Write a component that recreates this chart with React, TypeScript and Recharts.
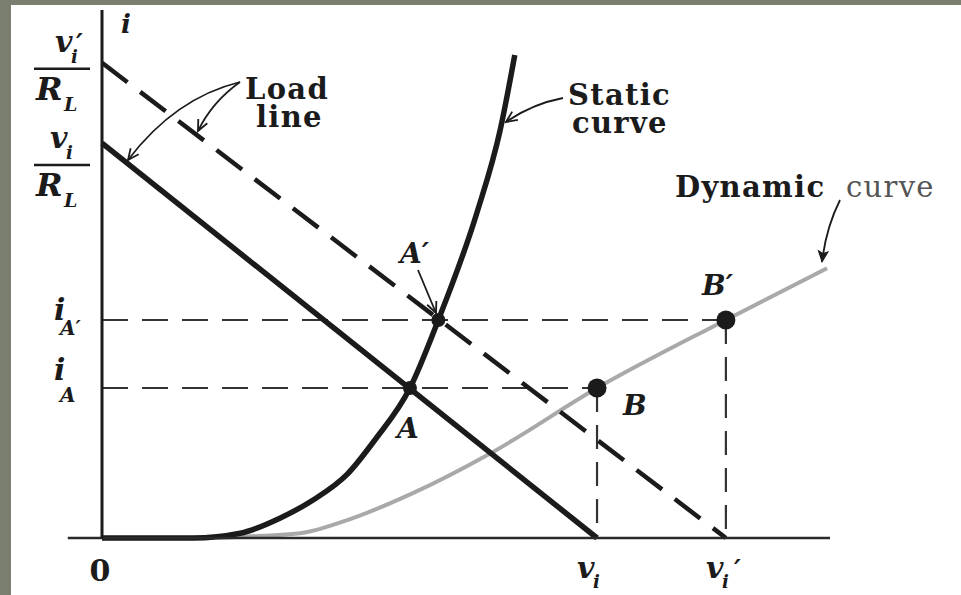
import { ComposedChart, Line, XAxis, YAxis, ReferenceLine, Scatter } from 'recharts';

// operating values: v in volts, i in mA
const vi = 6.8;
const viPrime = 8.57;
const viOverRL = 7.48;
const viPrimeOverRL = 9.0;
const iA = 2.84;
const iAPrime = 4.13;

// static diode curve
const staticV = [0, 1.25, 1.9, 2.45, 2.9, 3.37, 3.75, 4.23, 4.62, 5.15, 5.47, 5.67];
const staticI = [0, 0, 0.09, 0.38, 0.72, 1.21, 1.86, iA, iAPrime, 6.16, 7.73, 9.15];

// dynamic curve (through B and B')
const dynamicV = [1.6, 1.85, 2.72, 3.37, 4.27, 5.37, vi, viPrime, 9.96];
const dynamicI = [0, 0.02, 0.09, 0.34, 0.85, 1.63, iA, iAPrime, 5.11];

// marked operating points
const pointNames = ['A', 'A2', 'B', 'B2'];
const pointV = [4.23, 4.62, vi, viPrime];
const pointI = [iA, iAPrime, iA, iAPrime];

const xTicks = [0, vi, viPrime];
const yTicks = [iA, iAPrime, viOverRL, viPrimeOverRL];

const toRows = (vs: number[], is: number[]) => vs.map((v, k) => ({ v, i: is[k] }));
const staticData = toRows(staticV, staticI);
const dynamicData = toRows(dynamicV, dynamicI);
const loadData = [{ v: 0, i: viOverRL }, { v: vi, i: 0 }];
const loadPrimeData = [{ v: 0, i: viPrimeOverRL }, { v: viPrime, i: 0 }];
const pointData = pointNames.map((name, k) => ({ name, v: pointV[k], i: pointI[k] }));

const INK = '#1b1b1b';
const SERIF = "'DejaVu Serif', serif";
const dotR: Record<string, number> = { A: 7, A2: 7, B: 9.5, B2: 9.5 };

const near = (a: number, b: number) => Math.abs(a - b) < 1e-6;

function XTick({ x, y, payload }: any) {
  const v = payload.value;
  if (near(v, 0)) {
    return (
      <text x={x - 2} y={y + 43} textAnchor="middle" fontFamily={SERIF} fontWeight="bold" fontSize={30} fill={INK}>
        0
      </text>
    );
  }
  return (
    <g fill={INK} fontFamily={SERIF} fontWeight="bold" fontStyle="italic">
      <text x={x - 20} y={y + 40} fontSize={30}>v</text>
      <text x={x - 4} y={y + 50} fontSize={18}>i</text>
      {near(v, viPrime) && <text x={x + 8} y={y + 40} fontSize={26}>′</text>}
    </g>
  );
}

function Fraction({ x, y, prime }: { x: number; y: number; prime: boolean }) {
  // y is the fraction bar
  const nx = prime ? x - 47 : x - 52;
  return (
    <g fill={INK} fontFamily={SERIF} fontWeight="bold" fontStyle="italic">
      <text x={nx} y={y - 17} fontSize={30}>v</text>
      <text x={nx + 16} y={y - 6} fontSize={18}>i</text>
      {prime && <text x={nx + 21} y={y - 17} fontSize={26}>′</text>}
      <line x1={x - 68} x2={x - 12} y1={y} y2={y} stroke={INK} strokeWidth={2.5} />
      <text x={x - 66} y={y + 31} fontSize={32}>R</text>
      <text x={x - 38} y={y + 42} fontSize={19}>L</text>
    </g>
  );
}

function YTick({ x, y, payload }: any) {
  const v = payload.value;
  if (near(v, viPrimeOverRL)) return <Fraction x={x} y={y + 6} prime />;
  if (near(v, viOverRL)) return <Fraction x={x} y={y + 22} prime={false} />;
  const prime = near(v, iAPrime);
  return (
    <g fill={INK} fontFamily={SERIF} fontWeight="bold" fontStyle="italic">
      <text x={x - 48} y={prime ? y : y - 8} fontSize={30}>i</text>
      <text x={x - 42} y={prime ? y + 15 : y + 14} fontSize={20}>{prime ? 'A′' : 'A'}</text>
    </g>
  );
}

function PointDot({ cx, cy, payload }: any) {
  return <circle cx={cx} cy={cy} r={dotR[payload.name]} fill={INK} />;
}

function Annotations() {
  const bold = { fontFamily: SERIF, fontWeight: 'bold' as const, fill: INK, fontSize: 29, letterSpacing: 1.3 };
  const math = { fontFamily: SERIF, fontWeight: 'bold' as const, fill: INK, fontStyle: 'italic' as const, fontSize: 28 };
  return (
    <svg width={961} height={595} style={{ position: 'absolute', left: 0, top: 0, pointerEvents: 'none' }}>
      <defs>
        <marker id="open" markerWidth={14} markerHeight={12} refX={12} refY={6} orient="auto" markerUnits="userSpaceOnUse">
          <path d="M1,1 L12,6 L1,11" fill="none" stroke={INK} strokeWidth={1.8} />
        </marker>
        <marker id="solid" markerWidth={14} markerHeight={12} refX={12} refY={6} orient="auto" markerUnits="userSpaceOnUse">
          <path d="M0,0 L13,6 L0,12 L3,6 Z" fill={INK} />
        </marker>
      </defs>
      <g fill="none" stroke={INK} strokeWidth={1.8}>
        <path d="M240,82 Q175,98 128,160" markerEnd="url(#open)" />
        <path d="M240,82 Q212,102 198,131" markerEnd="url(#open)" />
        <path d="M563,98 Q532,104 506,122" markerEnd="url(#open)" />
        <path d="M840,200 Q826,228 822,262" markerEnd="url(#solid)" />
        <path d="M418,270 L436,313" markerEnd="url(#open)" />
      </g>
      <text x={121} y={33} fontFamily={SERIF} fontWeight="bold" fill={INK} fontStyle="italic" fontSize={26}>i</text>
      <text x={245} y={99} {...bold}>Load</text>
      <text x={256} y={127} {...bold}>line</text>
      <text x={568} y={105} {...bold}>Static</text>
      <text x={572} y={133} {...bold}>curve</text>
      <text x={675} y={197} {...bold}>Dynamic</text>
      <text x={846} y={197} fontFamily={SERIF} fontSize={29} letterSpacing={1.3} fill="#555">curve</text>
      <text x={400} y={263} {...math}>A′</text>
      <text x={397} y={438} {...math}>A</text>
      <text x={623} y={415} {...math}>B</text>
      <text x={702} y={295} {...math}>B′</text>
    </svg>
  );
}

export default function App() {
  return (
    <div style={{ position: 'absolute', left: 0, top: 0, width: 961, height: 595, background: '#7b7f6f' }}>
      <ComposedChart
        width={950}
        height={590}
        margin={{ top: 5, right: 131, bottom: 7, left: 6 }}
        style={{ position: 'absolute', left: 11, top: 5, background: '#fff' }}
      >
        <XAxis
          type="number"
          dataKey="v"
          domain={[0, 10]}
          ticks={xTicks}
          interval={0}
          height={50}
          tickSize={0}
          tickMargin={0}
          axisLine={{ stroke: '#2a2a2a', strokeWidth: 2.5 }}
          tickLine={false}
          tick={<XTick />}
        />
        <YAxis
          type="number"
          domain={[0, 10]}
          ticks={yTicks}
          interval={0}
          width={85}
          tickSize={0}
          tickMargin={0}
          axisLine={{ stroke: INK, strokeWidth: 3 }}
          tickLine={false}
          tick={<YTick />}
        />
        <ReferenceLine segment={[{ x: -0.47, y: 0 }, { x: 0, y: 0 }]} stroke="#2a2a2a" strokeWidth={2.5} ifOverflow="visible" />
        <ReferenceLine segment={[{ x: 0, y: iAPrime }, { x: viPrime, y: iAPrime }]} stroke="#333" strokeWidth={2} strokeDasharray="26 14" />
        <ReferenceLine segment={[{ x: 0, y: iA }, { x: vi, y: iA }]} stroke="#333" strokeWidth={2} strokeDasharray="26 14" />
        <ReferenceLine segment={[{ x: vi, y: iA }, { x: vi, y: 0 }]} stroke="#333" strokeWidth={2.2} strokeDasharray="24 13" />
        <ReferenceLine segment={[{ x: viPrime, y: iAPrime }, { x: viPrime, y: 0 }]} stroke="#333" strokeWidth={2.2} strokeDasharray="24 13" />
        <Line data={dynamicData} dataKey="i" type="monotone" stroke="#a9a9a9" strokeWidth={4} dot={false} activeDot={false} isAnimationActive={false} />
        <Line data={loadPrimeData} dataKey="i" type="linear" stroke={INK} strokeWidth={4.5} strokeDasharray="32 16" dot={false} activeDot={false} isAnimationActive={false} />
        <Line data={loadData} dataKey="i" type="linear" stroke={INK} strokeWidth={5.5} dot={false} activeDot={false} isAnimationActive={false} />
        <Line data={staticData} dataKey="i" type="monotone" stroke={INK} strokeWidth={5.5} dot={false} activeDot={false} isAnimationActive={false} />
        <Scatter data={pointData} dataKey="i" shape={<PointDot />} isAnimationActive={false} />
      </ComposedChart>
      <Annotations />
    </div>
  );
}
